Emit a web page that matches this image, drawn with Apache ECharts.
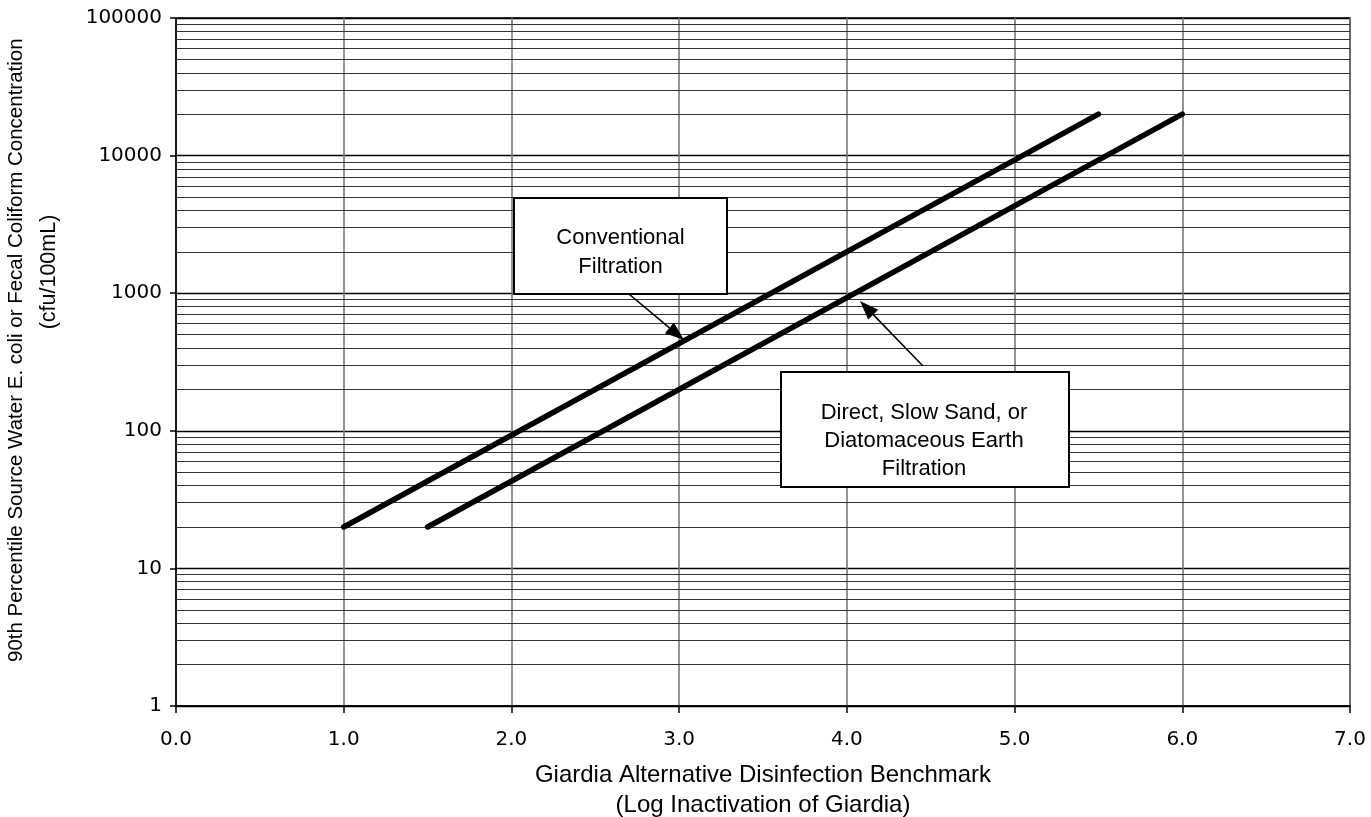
<!DOCTYPE html>
<html>
<head>
<meta charset="utf-8">
<script src="https://cdn.jsdelivr.net/npm/echarts@6/dist/echarts.min.js"></script>
<style>
html,body{margin:0;padding:0;background:#fff;}
#chart{width:1371px;height:817px;}
</style>
</head>
<body>
<div id="chart"></div>
<script>
// ---- data ----
const conventionalX = [1.0, 5.5];
const conventionalY = [20, 20000];
const directX = [1.5, 6.0];
const directY = [20, 20000];
const xMin = 0, xMax = 7, xInterval = 1;
const yMin = 1, yMax = 100000;
const minorMultipliers = [2, 3, 4, 5, 6, 7, 8, 9];
const decades = [1, 10, 100, 1000, 10000];
const xTitle = 'Giardia Alternative Disinfection Benchmark\n(Log Inactivation of Giardia)';
const yTitle1 = '90th Percentile Source Water E. coli or Fecal Coliform Concentration';
const yTitle2 = '(cfu/100mL)';
const noteConventional = 'Conventional\nFiltration';
const noteDirect = 'Direct, Slow Sand, or\nDiatomaceous Earth\nFiltration';

const minorGrid = [];
decades.forEach(d => minorMultipliers.forEach(m => minorGrid.push(d * m)));

const chart = echarts.init(document.getElementById('chart'), null, {renderer: 'canvas'});

function arrow(x1, y1, x2, y2) {
  const ang = Math.atan2(y2 - y1, x2 - x1);
  const L = 19, W = 7;
  const bx = x2 - L * Math.cos(ang), by = y2 - L * Math.sin(ang);
  const px = -Math.sin(ang), py = Math.cos(ang);
  return [
    {type: 'line', shape: {x1: x1, y1: y1, x2: bx, y2: by}, style: {stroke: '#000', lineWidth: 1.6}, z: 20},
    {type: 'polygon', shape: {points: [[x2, y2], [bx + px * W, by + py * W], [bx - px * W, by - py * W]]}, style: {fill: '#000'}, z: 20}
  ];
}

const option = {
  backgroundColor: '#fff',
  animation: false,
  grid: {left: 176, top: 18, width: 1174, height: 688, show: true, borderColor: '#000', borderWidth: 1.5,
    backgroundColor: 'transparent', containLabel: false, outerBoundsMode: 'none'},
  xAxis: {
    type: 'value', min: xMin, max: xMax, interval: xInterval,
    axisLine: {show: true, onZero: false, lineStyle: {color: '#000', width: 1.5}},
    axisTick: {show: true, inside: false, length: 7, lineStyle: {color: '#000', width: 1.5}},
    axisLabel: {margin: 24, fontFamily: 'DejaVu Sans', fontSize: 20, color: '#000', formatter: v => v.toFixed(1)},
    splitLine: {show: true, lineStyle: {color: '#777', width: 1.6}},
    name: xTitle, nameLocation: 'middle', nameGap: 54,
    nameTextStyle: {fontFamily: 'Liberation Sans', fontSize: 24, color: '#000', lineHeight: 30}
  },
  yAxis: {
    type: 'log', logBase: 10, min: yMin, max: yMax,
    axisLine: {show: true, lineStyle: {color: '#000', width: 1.5}},
    axisTick: {show: true, inside: false, length: 6, lineStyle: {color: '#000', width: 1.5}},
    axisLabel: {margin: 14, fontFamily: 'DejaVu Sans', fontSize: 20, color: '#000', formatter: v => String(Math.round(v))},
    splitLine: {show: true, lineStyle: {color: '#000', width: 1.3}},
    minorTick: {show: false}, minorSplitLine: {show: false}
  },
  series: [
    {
      type: 'line', data: [], silent: true, z: 1,
      markLine: {
        silent: true, symbol: ['none', 'none'], animation: false,
        label: {show: false},
        lineStyle: {color: '#333', width: 1.2, type: 'solid'},
        emphasis: {disabled: true},
        data: minorGrid.map(v => ({yAxis: v}))
      }
    },
    {
      name: 'Conventional', type: 'line', z: 5,
      data: conventionalX.map((x, i) => [x, conventionalY[i]]),
      showSymbol: false, symbol: 'none',
      lineStyle: {color: '#000', width: 5.5, cap: 'round', join: 'round'}
    },
    {
      name: 'Direct', type: 'line', z: 5,
      data: directX.map((x, i) => [x, directY[i]]),
      showSymbol: false, symbol: 'none',
      lineStyle: {color: '#000', width: 5.5, cap: 'round', join: 'round'}
    }
  ],
  graphic: [
    {type: 'text', x: 16, y: 662, rotation: Math.PI / 2, z: 10,
      style: {text: yTitle1, fontFamily: 'Liberation Sans', fontSize: 20.5, fill: '#000', align: 'left', verticalAlign: 'middle'}},
    {type: 'text', x: 49, y: 272, rotation: Math.PI / 2, z: 10,
      style: {text: yTitle2, fontFamily: 'Liberation Sans', fontSize: 21.5, fill: '#000', align: 'center', verticalAlign: 'middle'}},
    {type: 'rect', shape: {x: 514, y: 198, width: 213, height: 96}, style: {fill: '#fff', stroke: '#000', lineWidth: 2}, z: 15},
    {type: 'text', x: 620.5, y: 252, z: 16,
      style: {text: noteConventional, fontFamily: 'Liberation Sans', fontSize: 22, lineHeight: 29, fill: '#000', align: 'center', verticalAlign: 'middle'}},
    {type: 'rect', shape: {x: 781, y: 372, width: 288, height: 115}, style: {fill: '#fff', stroke: '#000', lineWidth: 2}, z: 15},
    {type: 'text', x: 924, y: 441, z: 16,
      style: {text: noteDirect, fontFamily: 'Liberation Sans', fontSize: 22, lineHeight: 28, fill: '#000', align: 'center', verticalAlign: 'middle'}}
  ].concat(arrow(629, 294, 684, 340)).concat(arrow(923, 366, 860, 301))
};
chart.setOption(option);
</script>
</body>
</html>
